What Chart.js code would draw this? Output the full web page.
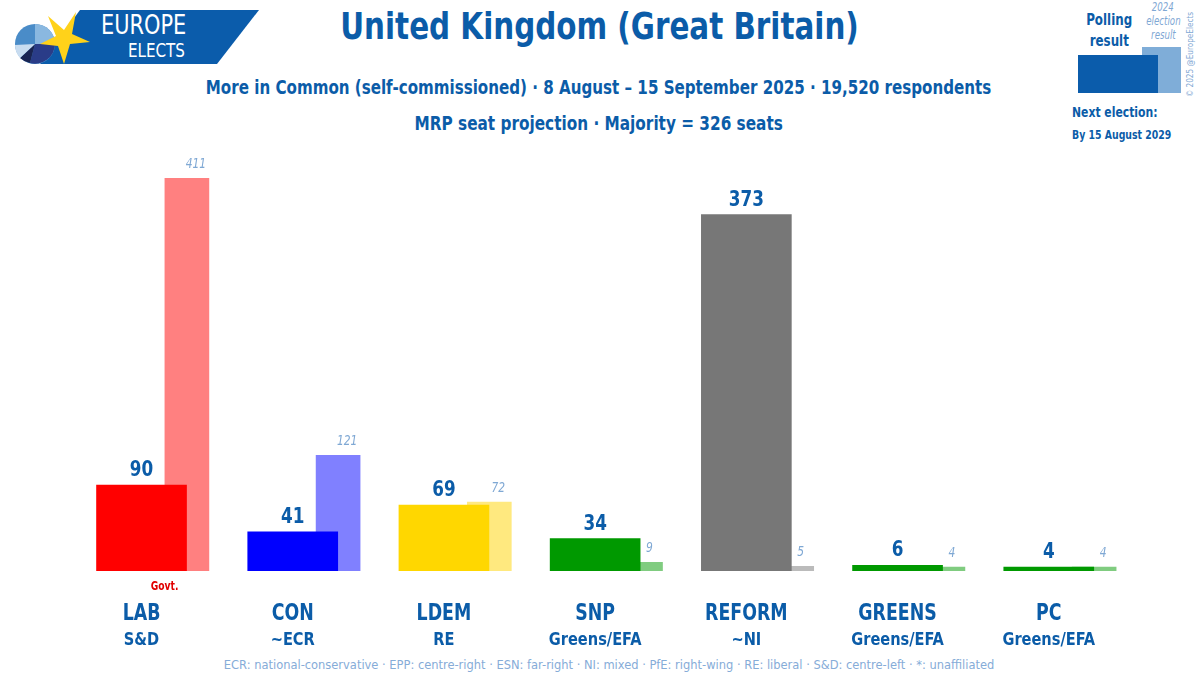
<!DOCTYPE html>
<html>
<head>
<meta charset="utf-8">
<script src="https://cdn.jsdelivr.net/npm/chart.js@4.4.1/dist/chart.umd.min.js"></script>
<style>
  html, body { margin: 0; padding: 0; background: #fff; }
  body { width: 1198px; height: 683px; position: relative; overflow: hidden;
         font-family: "DejaVu Sans Condensed", "DejaVu Sans", sans-serif; color: #0b5ca8; }
  #wrap { position: absolute; left: 0; top: 0; width: 1198px; height: 683px; }
  .t { position: absolute; white-space: nowrap; font-weight: bold; }
  .c { left: 0; width: 1198px; text-align: center; }
  .c span { display: inline-block; transform-origin: center; }
  .l span { display: inline-block; transform-origin: left top; }
  #title { top: 4px; font-size: 38px; }
  #title span { transform: scaleX(0.86); }
  #sub1 { top: 75px; font-size: 20px; }
  #sub1 span { transform: scaleX(0.84); }
  #sub2 { top: 111px; font-size: 20px; }
  #sub2 span { transform: scaleX(0.85); }
  #foot { top: 657px; left: 10px; font-size: 13px; color: #86acd8; font-weight: normal; }
  #foot span { transform: scaleX(0.98); }
  #logoTxt1 { left: 101px; top: 9px; font-size: 27px; color: #fff; font-weight: normal; }
  #logoTxt1 span { transform: scaleX(0.86); }
  #logoTxt2 { left: 128px; top: 38px; font-size: 20px; color: #fff; font-weight: normal; }
  #logoTxt2 span { transform: scaleX(0.84); }
  #poll { left: 1078px; width: 62px; text-align: center; top: 10px; font-size: 15px; line-height: 21px; }
  #poll span { display: inline-block; transform: scaleX(0.88); }
  #prev { left: 1138px; width: 50px; text-align: center; top: 0px; font-size: 12px; line-height: 14px;
          color: #7fa8d4; font-style: italic; font-weight: normal; }
  #prev span { display: inline-block; transform: scaleX(0.8); }
  #next { left: 1072px; top: 101px; font-size: 14px; line-height: 22px; }
  #next span { transform: scaleX(0.86); }
  #next span.s { transform: scaleX(0.8); font-size: 13px; }
  #copy { left: 1185px; top: 97px; font-size: 9px; color: #7fa8d4; font-weight: normal;
          transform-origin: left top; transform: rotate(-90deg) scaleX(0.9); }
</style>
</head>
<body>
<div id="wrap">
  <svg width="270" height="70" style="position:absolute;left:0;top:0">
    <polygon points="80,10 259,10 217,64 40,64" fill="#0b5cab"/>
    <circle cx="35" cy="44" r="20" fill="#4a8cc8"/>
    <path d="M35,44 L35,24 A20,20 0 0,1 55,44 Z" fill="#8ab8e0"/>
    <path d="M35,44 L55,44 A20,20 0 0,1 30,63 Z" fill="#2a3c88"/>
    <path d="M35,44 L30,63 A20,20 0 0,1 20,58 Z" fill="#1a2452"/>
    <path d="M35,44 L20,58 A20,20 0 0,1 15,45 Z" fill="#c8dcf0"/>
    <polygon points="76,12 72,34 90,42 70,44 64,64 58,46 40,44 56,36 48,16 64,30" fill="#ffd21a"/>
  </svg>
  <div class="t l" id="logoTxt1"><span>EUROPE</span></div>
  <div class="t l" id="logoTxt2"><span>ELECTS</span></div>

  <div class="t c" id="title"><span>United Kingdom (Great Britain)</span></div>
  <div class="t c" id="sub1"><span>More in Common (self-commissioned) · 8 August – 15 September 2025 · 19,520 respondents</span></div>
  <div class="t c" id="sub2"><span>MRP seat projection · Majority = 326 seats</span></div>

  <div style="position:absolute;left:1142px;top:47px;width:39px;height:46px;background:#7fadd8"></div>
  <div style="position:absolute;left:1078px;top:55px;width:80px;height:38px;background:#0b5cab"></div>
  <div class="t" id="poll"><span>Polling</span><br><span>result</span></div>
  <div class="t" id="prev"><span>2024</span><br><span>election</span><br><span>result</span></div>
  <div class="t l" id="next"><span>Next election:</span><br><span class="s">By 15 August 2029</span></div>
  <div class="t" id="copy">© 2025 @EuropeElects</div>

  <div class="t c" id="foot"><span>ECR: national-conservative · EPP: centre-right · ESN: far-right · NI: mixed · PfE: right-wing · RE: liberal · S&amp;D: centre-left · *: unaffiliated</span></div>

  <div style="position:absolute;left:0;top:0;width:1198px;height:683px">
    <canvas id="seatChart" width="1198" height="683"></canvas>
  </div>
</div>

<script>
const parties = ['LAB', 'CON', 'LDEM', 'SNP', 'REFORM', 'GREENS', 'PC'];
const groups = ['S&D', '~ECR', 'RE', 'Greens/EFA', '~NI', 'Greens/EFA', 'Greens/EFA'];
const seats = [90, 41, 69, 34, 373, 6, 4];          // MRP projection
const seats2024 = [411, 121, 72, 9, 5, 4, 4];      // 2024 election result
const mainColors = ['#ff0000', '#0000ff', '#ffd700', '#009900', '#777777', '#009900', '#009900'];
const prevColors = ['#ff8080', '#8080ff', '#ffe97f', '#80cc80', '#bbbbbb', '#80cc80', '#80cc80'];

const PREV_SHIFT = 0.3;  // previous-result bar sits to the right of the main bar
const FONT = '"DejaVu Sans Condensed", "DejaVu Sans", sans-serif';

// narrow text: squeeze horizontally around x
const squeezeText = (ctx, text, x, y, sx) => {
    ctx.save();
    ctx.translate(x, y);
    ctx.scale(sx, 1);
    ctx.fillText(text, 0, 0);
    ctx.restore();
};

const labelPlugin = {
    id: 'seatLabels',
    afterDatasetsDraw(chart) {
        const ctx = chart.ctx;
        const main = chart.getDatasetMeta(0).data;
        const prev = chart.getDatasetMeta(1).data;
        const base = chart.scales.y.getPixelForValue(0);
        ctx.save();
        ctx.textAlign = 'center';
        ctx.textBaseline = 'alphabetic';
        main.forEach((bar, i) => {
            ctx.fillStyle = '#0b5ca8';
            ctx.font = 'bold 22px ' + FONT;
            squeezeText(ctx, String(seats[i]), bar.x, bar.y - 9, 0.85);

            const pb = prev[i];
            ctx.fillStyle = '#7fa8d4';
            ctx.font = 'italic 14px ' + FONT;
            squeezeText(ctx, String(seats2024[i]), pb.x + 9, pb.y - 10, 0.85);

            ctx.fillStyle = '#0b5ca8';
            ctx.font = 'bold 23px ' + FONT;
            squeezeText(ctx, parties[i], bar.x, base + 49, 0.84);
            ctx.font = 'bold 18px ' + FONT;
            squeezeText(ctx, groups[i], bar.x, base + 74, 0.9);
        });
        // governing party marker
        ctx.fillStyle = '#e00000';
        ctx.font = 'bold 12px ' + FONT;
        squeezeText(ctx, 'Govt.', main[0].x + 23, base + 19, 0.85);
        ctx.restore();
    }
};

const ctx = document.getElementById('seatChart').getContext('2d');
const seatChart = new Chart(ctx, {
    type: 'bar',
    data: {
        datasets: [
            {
                label: 'Polling result',
                data: seats.map((v, i) => ({ x: i, y: v })),
                backgroundColor: mainColors,
                barThickness: 90,
                grouped: false
            },
            {
                label: '2024 election result',
                data: seats2024.map((v, i) => ({ x: i + PREV_SHIFT, y: v })),
                backgroundColor: prevColors,
                barThickness: 44,
                grouped: false
            }
        ]
    },
    options: {
        responsive: false,
        animation: false,
        layout: { padding: { top: 141, bottom: 112, left: 0, right: 0 } },
        plugins: { legend: { display: false }, tooltip: { enabled: false } },
        scales: {
            x: { type: 'linear', min: -0.936, max: 6.987, display: false, offset: false },
            y: { min: 0, max: 450, display: false }
        }
    },
    plugins: [labelPlugin]
});
</script>
</body>
</html>
